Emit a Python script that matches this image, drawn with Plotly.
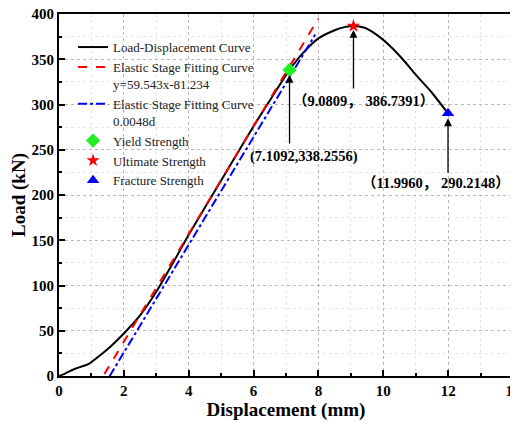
import plotly.graph_objects as go

# Load-displacement curve
disp = [0, 0.2, 0.5, 0.9, 1.2, 1.6, 2.0, 2.5, 3.0, 3.5, 4.0, 5.0, 6.0, 6.6, 7.1092,
        7.5, 8.0, 8.5, 8.8, 9.0809, 9.4, 9.8, 10.2, 10.6, 11.0, 11.5, 11.996]
load = [0, 3, 8, 13, 21, 33, 47, 67, 93, 124, 156, 216, 276, 310, 338.2556,
        356, 373, 382, 385.5, 386.7391, 385, 377, 365, 350, 333, 313, 290.2148]

# Elastic stage fitting lines
fit1_x = [1.4, 8.0]
fit1_slope, fit1_icpt = 59.543, -81.234
fit2_x = [1.56, 7.9]
fit2_offset = 0.2

yield_pt = (7.1092, 338.2556)
ult_pt = (9.0809, 386.7391)
frac_pt = (11.9960, 290.2148)

yield_label = "(7.1092,338.2556)"
ult_label = "（9.0809， 386.7391）"
frac_label = "（11.9960， 290.2148）"

fit1_y = [fit1_slope * x + fit1_icpt for x in fit1_x]
fit2_y = [fit1_slope * (x - fit2_offset) + fit1_icpt for x in fit2_x]

serif = "Liberation Serif, Times New Roman, Noto Sans CJK SC, serif"

fig = go.Figure()
fig.add_trace(go.Scatter(x=disp, y=load, mode="lines", name="Load-Displacement Curve",
                         line=dict(color="black", width=2, shape="spline", smoothing=0.6)))
fig.add_trace(go.Scatter(x=fit1_x, y=fit1_y, mode="lines",
                         name="Elastic Stage Fitting Curve<br>y=59.543x-81.234",
                         line=dict(color="red", width=2, dash="dash")))
fig.add_trace(go.Scatter(x=fit2_x, y=fit2_y, mode="lines",
                         name="Elastic Stage Fitting Curve<br>0.0048d",
                         line=dict(color="blue", width=2, dash="dashdot")))
fig.add_trace(go.Scatter(x=[yield_pt[0]], y=[yield_pt[1]], mode="markers", name="Yield Strength",
                         marker=dict(symbol="diamond", color="#22ee22", size=11)))
fig.add_trace(go.Scatter(x=[ult_pt[0]], y=[ult_pt[1]], mode="markers", name="Ultimate Strength",
                         marker=dict(symbol="star", color="red", size=10)))
fig.add_trace(go.Scatter(x=[frac_pt[0]], y=[frac_pt[1]], mode="markers", name="Fracture Strength",
                         marker=dict(symbol="triangle-up", color="blue", size=11)))

ann_font = dict(family=serif, size=14.5, color="black", weight="bold")
arrow = dict(showarrow=True, arrowhead=2, arrowsize=1.2, arrowwidth=1.3, arrowcolor="black",
             axref="pixel", ayref="pixel", ax=0, text="")
# arrows
fig.add_annotation(x=yield_pt[0], y=yield_pt[1], ay=75, standoff=5, **arrow)
fig.add_annotation(x=ult_pt[0], y=ult_pt[1], ay=64, standoff=4, **arrow)
fig.add_annotation(x=frac_pt[0], y=frac_pt[1], ay=61, standoff=5, **arrow)
# labels (placed below the arrow tails)
fig.add_annotation(x=yield_pt[0], y=yield_pt[1], xshift=14, yshift=-87, text=yield_label,
                   showarrow=False, font=ann_font)
fig.add_annotation(x=ult_pt[0], y=ult_pt[1], xshift=10, yshift=-75, text=ult_label,
                   showarrow=False, font=ann_font)
fig.add_annotation(x=frac_pt[0], y=frac_pt[1], xshift=-12, yshift=-70, text=frac_label,
                   showarrow=False, font=ann_font)

axis_common = dict(
    showline=True, linecolor="black", linewidth=2, mirror=True,
    ticks="inside", ticklen=6, tickwidth=2, tickcolor="black",
    showgrid=True, gridcolor="#b8b8b8", gridwidth=1, griddash="dot",
    zeroline=False, automargin=False, ticklabeloverflow="allow",
    tickfont=dict(family=serif, size=15, color="black", weight="bold"),
)

fig.update_xaxes(range=[0, 14], dtick=2, tick0=0,
                 minor=dict(ticks="inside", ticklen=3, tickcolor="black", tickwidth=1.5, dtick=1,
                            showgrid=True, gridcolor="#e6e6e6", griddash="dot"),
                 title=dict(text="<b>Displacement (mm)</b>", font=dict(family=serif, size=19, color="black"),
                            standoff=2),
                 **axis_common)
fig.update_yaxes(range=[0, 400], dtick=50, tick0=0,
                 minor=dict(ticks="inside", ticklen=3, tickcolor="black", tickwidth=1.5, dtick=25,
                            showgrid=True, gridcolor="#e6e6e6", griddash="dot"),
                 title=dict(text="<b>Load (kN)</b>", font=dict(family=serif, size=19, color="black"),
                            standoff=4),
                 **axis_common)

# page body adds an 8px offset, so the figure is sized/margined to compensate
fig.update_layout(
    width=510, height=415,
    margin=dict(l=51, r=5, t=6, b=47),
    plot_bgcolor="white", paper_bgcolor="white",
    showlegend=True,
    legend=dict(x=0.031, y=0.95, xanchor="left", yanchor="top",
                bgcolor="rgba(255,255,255,0)", borderwidth=0,
                font=dict(family=serif, size=13, color="#222"),
                valign="top", tracegroupgap=0, itemwidth=30),
)

fig.write_html("out.html")
